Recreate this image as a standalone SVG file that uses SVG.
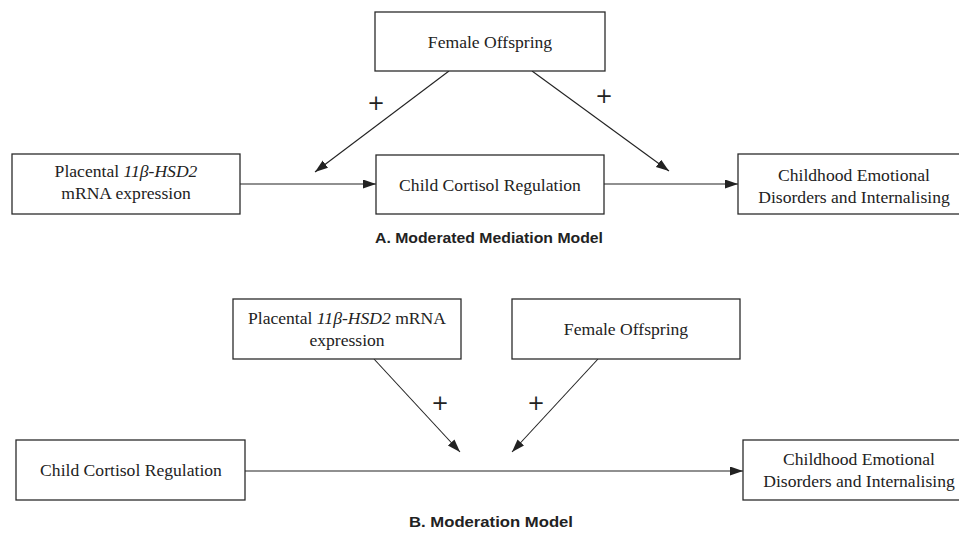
<svg xmlns="http://www.w3.org/2000/svg" width="959" height="536" viewBox="0 0 959 536">
<style>
.box{fill:#fff;stroke:#2b2b2b;stroke-width:1.3}
.t{font-family:"Liberation Serif","Times New Roman",serif;font-size:17.6px;fill:#222;text-anchor:middle}
.it{font-style:italic}
.cap{font-family:"Liberation Sans",Arial,sans-serif;font-size:15px;font-weight:bold;fill:#222;text-anchor:middle}
.plus{font-family:"DejaVu Sans","Liberation Sans",sans-serif;font-size:21px;fill:#222;text-anchor:middle}
.c{stroke:#222;stroke-width:1.1;fill:none;marker-end:url(#ah)}
</style>
<defs>
<marker id="ah" markerUnits="userSpaceOnUse" markerWidth="14" markerHeight="10" refX="13" refY="4.5" orient="auto">
<path d="M0,0 L13,4.5 L0,9 z" fill="#222"/>
</marker>
</defs>
<rect width="959" height="536" fill="#fff"/>
<g id="connectors">
<line class="c" x1="240" y1="184" x2="376" y2="184"/>
<line class="c" x1="604" y1="184" x2="738" y2="184"/>
<line class="c" x1="449" y1="71" x2="315" y2="172"/>
<line class="c" x1="532" y1="71" x2="669" y2="171"/>
<line class="c" x1="245" y1="471" x2="743" y2="471"/>
<line class="c" x1="374" y1="359" x2="460" y2="452"/>
<line class="c" x1="598" y1="359" x2="512" y2="452"/>
</g>
<g id="labels">
<text class="plus" x="376" y="110">+</text>
<text class="plus" x="604" y="103">+</text>
<text class="plus" x="440" y="410">+</text>
<text class="plus" x="536" y="410">+</text>
</g>
<g id="a-female">
<rect class="box" x="375" y="12" width="230" height="59"/>
<text class="t" x="490" y="48">Female Offspring</text>
</g>
<g id="a-placental">
<rect class="box" x="12" y="154" width="228" height="60"/>
<text class="t" x="126" y="177">Placental <tspan class="it">11β-HSD2</tspan></text>
<text class="t" x="126" y="199">mRNA expression</text>
</g>
<g id="a-cortisol">
<rect class="box" x="376" y="155" width="228" height="59"/>
<text class="t" x="490" y="191">Child Cortisol Regulation</text>
</g>
<g id="a-outcome">
<rect class="box" x="738" y="154" width="232" height="60"/>
<text class="t" x="854" y="181">Childhood Emotional</text>
<text class="t" x="854" y="203">Disorders and Internalising</text>
</g>
<text class="cap" x="489" y="243" textLength="228" lengthAdjust="spacingAndGlyphs">A. Moderated Mediation Model</text>
<g id="b-placental">
<rect class="box" x="233" y="299" width="228" height="60"/>
<text class="t" x="347" y="324">Placental <tspan class="it">11β-HSD2</tspan> mRNA</text>
<text class="t" x="347" y="346">expression</text>
</g>
<g id="b-female">
<rect class="box" x="512" y="299" width="228" height="60"/>
<text class="t" x="626" y="335">Female Offspring</text>
</g>
<g id="b-cortisol">
<rect class="box" x="16" y="440" width="229" height="60"/>
<text class="t" x="131" y="476">Child Cortisol Regulation</text>
</g>
<g id="b-outcome">
<rect class="box" x="743" y="440" width="232" height="60"/>
<text class="t" x="859" y="465">Childhood Emotional</text>
<text class="t" x="859" y="487">Disorders and Internalising</text>
</g>
<text class="cap" x="491" y="527" textLength="164" lengthAdjust="spacingAndGlyphs">B. Moderation Model</text>
</svg>
